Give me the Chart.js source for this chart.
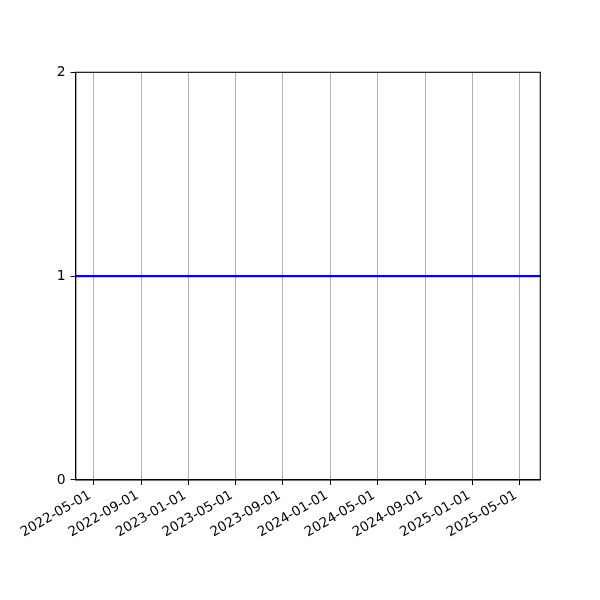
<!DOCTYPE html>
<html>
<head>
<meta charset="utf-8">
<script src="https://cdn.jsdelivr.net/npm/chart.js@4/dist/chart.umd.min.js"></script>
<style>
  html, body { margin: 0; padding: 0; background: #fff; }
</style>
</head>
<body>
<canvas id="chart" width="600" height="600"></canvas>
<script>
// data
const xLimits = ['2022-03-17', '2025-06-24'];
const lineDates = ['2022-03-17', '2025-06-24'];
const lineValues = [1, 1];
const tickDates = ['2022-05-01', '2022-09-01', '2023-01-01', '2023-05-01', '2023-09-01',
                   '2024-01-01', '2024-05-01', '2024-09-01', '2025-01-01', '2025-05-01'];
const yTicks = [0, 1, 2];

const toMs = s => Date.parse(s + 'T00:00:00Z');
const fmt = v => new Date(v).toISOString().slice(0, 10);

Chart.defaults.font.family = 'DejaVu Sans';
Chart.defaults.font.size = 13.9;
Chart.defaults.color = '#000';

// matplotlib-like box around the plot area + rotated date labels anchored at their end
const frame = {
    id: 'frame',
    afterDraw(chart) {
        const a = chart.chartArea, c = chart.ctx;
        c.save();
        c.strokeStyle = '#000';
        c.lineWidth = 1.1;
        c.strokeRect(a.left, a.top, a.right - a.left, a.bottom - a.top);

        const xs = chart.scales.x;
        c.fillStyle = '#000';
        c.font = '13.5px "DejaVu Sans"';
        c.textAlign = 'right';
        c.textBaseline = 'alphabetic';
        xs.ticks.forEach(t => {
            c.save();
            c.translate(xs.getPixelForValue(t.value) - 1.6, a.bottom + 17.5);
            c.rotate(-Math.PI / 6);
            c.fillText(fmt(t.value), 0, 0);
            c.restore();
        });
        c.restore();
    }
};

const ctx = document.querySelector('#chart').getContext('2d');
const myChart = new Chart(ctx, {
    type: 'line',
    data: {
        datasets: [{
            data: lineDates.map((d, i) => ({ x: toMs(d), y: lineValues[i] })),
            borderColor: '#0000ff',
            borderWidth: 2.1,
            pointRadius: 0,
            fill: false
        }]
    },
    options: {
        responsive: false,
        animation: false,
        devicePixelRatio: 1,
        layout: { padding: { left: 0, top: 72.3, right: 59.7, bottom: 0 } },
        plugins: { legend: { display: false }, tooltip: { enabled: false } },
        scales: {
            x: {
                type: 'linear',
                min: toMs(xLimits[0]),
                max: toMs(xLimits[1]),
                afterBuildTicks: s => { s.ticks = tickDates.map(d => ({ value: toMs(d) })); },
                afterFit: s => { s.height = 600 - 72.3 - 407.7; },
                grid: { color: '#b0b0b0', lineWidth: 1, tickColor: '#000', tickLength: 5 },
                border: { color: '#000', width: 1.1 },
                ticks: {
                    autoSkip: false,
                    minRotation: 30,
                    maxRotation: 30,
                    color: 'rgba(0,0,0,0)',
                    callback: v => fmt(v)
                }
            },
            y: {
                min: 0,
                max: 2,
                afterBuildTicks: s => { s.ticks = yTicks.map(v => ({ value: v })); },
                afterFit: s => { s.width = 75.7; },
                grid: { drawOnChartArea: false, tickColor: '#000', tickLength: 5 },
                border: { color: '#000', width: 1.1 },
                ticks: { padding: 5 }
            }
        }
    },
    plugins: [frame]
});
</script>
</body>
</html>
